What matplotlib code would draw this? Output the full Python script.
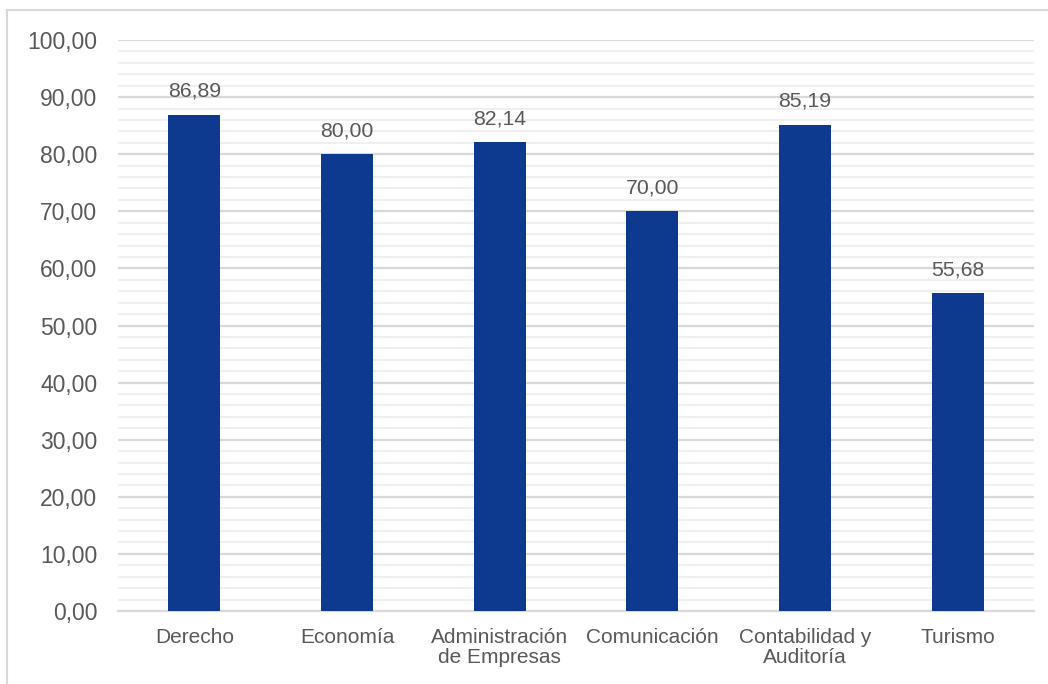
import matplotlib.pyplot as plt
from matplotlib.patches import Rectangle
from matplotlib.ticker import MultipleLocator, FuncFormatter
import numpy as np

# percentages by degree programme
carreras = ["Derecho", "Economía", "Administración\nde Empresas", "Comunicación",
            "Contabilidad y\nAuditoría", "Turismo"]
valores = [86.89, 80.00, 82.14, 70.00, 85.19, 55.68]

plt.rcParams['font.family'] = ['Liberation Sans', 'DejaVu Sans']
gris = "#595959"

fig = plt.figure(figsize=(10.48, 6.84), dpi=100)
ax = fig.add_axes([0.1126, 0.1067, 0.874, 0.8348])

# thin frame around the chart area
fig.patches.append(Rectangle((7/1048, -0.5), 2, 1.5 - 10/684, transform=fig.transFigure,
                             fill=False, edgecolor="#D9D9D9", linewidth=1.5))

x = np.arange(len(carreras))
ax.bar(x, valores, width=0.34, color="#0D3A8E", zorder=3)

for xi, v in zip(x, valores):
    ax.annotate(f"{v:.2f}".replace(".", ","), (xi, v), xytext=(0, 10),
                textcoords="offset points", ha="center", va="bottom",
                fontsize=15.3, color=gris)

ax.set_xlim(-0.5, len(carreras) - 0.5)
ax.set_ylim(0, 100)
ax.yaxis.set_major_locator(MultipleLocator(10))
ax.yaxis.set_minor_locator(MultipleLocator(2))
ax.yaxis.set_major_formatter(FuncFormatter(lambda v, p: f"{v:.2f}".replace(".", ",")))

ax.grid(axis="y", which="major", color="#D9D9D9", linewidth=1.6, zorder=0)
ax.grid(axis="y", which="minor", color="#F0F0F0", linewidth=1.5, zorder=0)
ax.set_axisbelow(True)

for s in ["top", "right", "left"]:
    ax.spines[s].set_visible(False)
ax.spines["bottom"].set_color("#D9D9D9")
ax.spines["bottom"].set_linewidth(1.6)

ax.set_xticks(x)
ax.set_xticklabels(carreras, fontsize=15, color=gris, linespacing=1.1)
ax.tick_params(axis="x", length=0, pad=12)
ax.tick_params(axis="y", which="both", length=0, pad=15, labelsize=16.5, labelcolor=gris)

fig.savefig("out.png", dpi=100)
